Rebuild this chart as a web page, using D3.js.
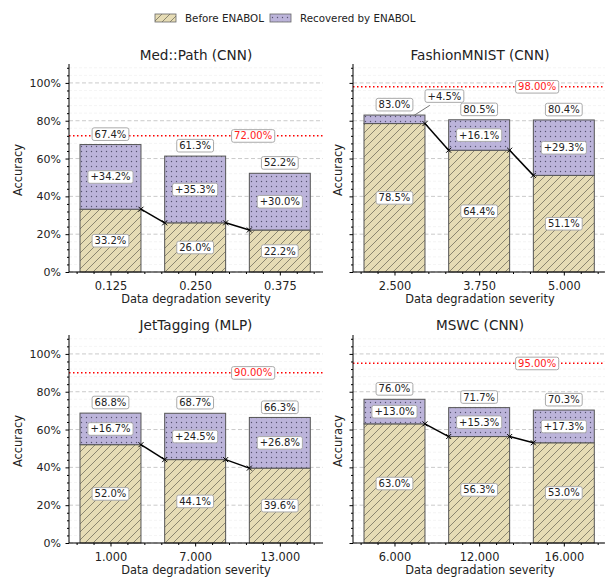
<!DOCTYPE html>
<html><head><meta charset="utf-8">
<script src="https://cdn.jsdelivr.net/npm/d3@7"></script>
<style>body{margin:0;background:#fff} svg{display:block;font-family:"DejaVu Sans",sans-serif}</style>
</head><body><svg id="c" width="605" height="581"></svg>
<script>
// ---------- data ----------
const panelTitles = ["Med::Path (CNN)", "FashionMNIST (CNN)", "JetTagging (MLP)", "MSWC (CNN)"];
const severityLabels = [
  ["0.125", "0.250", "0.375"],
  ["2.500", "3.750", "5.000"],
  ["1.000", "7.000", "13.000"],
  ["6.000", "12.000", "16.000"]
];
const beforeValues = [
  [33.2, 26.0, 22.2],
  [78.5, 64.4, 51.1],
  [52.0, 44.1, 39.6],
  [63.0, 56.3, 53.0]
];
const recoveredValues = [
  [34.2, 35.3, 30.0],
  [4.5, 16.1, 29.3],
  [16.7, 24.5, 26.8],
  [13.0, 15.3, 17.3]
];
const totalValues = [
  [67.4, 61.3, 52.2],
  [83.0, 80.5, 80.4],
  [68.8, 68.7, 66.3],
  [76.0, 71.7, 70.3]
];
const targetValues = [72.00, 98.00, 90.00, 95.00];
const yTicks = [0, 20, 40, 60, 80, 100];
const legendLabels = ["Before ENABOL", "Recovered by ENABOL"];

// ---------- layout ----------
const W = 254, H = 208;
const panelPos = [[69, 64], [353, 64], [69, 335], [353, 335]];
const svg = d3.select("#c");
const defs = svg.append("defs");

const beforeFill = "#e6dcb5", recFill = "#bcb4da";
const pb = defs.append("pattern").attr("id", "hBefore").attr("patternUnits", "userSpaceOnUse")
  .attr("width", 8).attr("height", 8);
pb.append("rect").attr("width", 8).attr("height", 8).attr("fill", beforeFill);
pb.append("path").attr("d", "M-1,1 L1,-1 M0,8 L8,0 M7,9 L9,7")
  .attr("stroke", "#74705e").attr("stroke-width", 0.8);
const pr = defs.append("pattern").attr("id", "hRec").attr("patternUnits", "userSpaceOnUse")
  .attr("width", 5).attr("height", 5);
pr.append("rect").attr("width", 5).attr("height", 5).attr("fill", recFill);
pr.append("circle").attr("cx", 2.5).attr("cy", 2.5).attr("r", 0.7).attr("fill", "#575370");

// legend
const legendX = [155, 270];
legendLabels.forEach((lab, k) => {
  svg.append("rect").attr("x", legendX[k]).attr("y", 14).attr("width", 21).attr("height", 8)
    .attr("fill", k === 0 ? "url(#hBefore)" : "url(#hRec)").attr("stroke", "#666").attr("stroke-width", 0.8);
  svg.append("text").attr("x", legendX[k] + 30).attr("y", 22.3).style("font-size", "10.3px")
    .attr("fill", "#222").text(lab);
});

function boxLabel(parent, cx, cy, txt, color) {
  const gg = parent.append("g");
  const t = gg.append("text").attr("x", cx).attr("y", cy).attr("text-anchor", "middle")
    .attr("dy", "0.36em").style("font-size", "10px").attr("fill", color).text(txt);
  const bb = t.node().getBBox();
  gg.insert("rect", "text").attr("x", bb.x - 2.5).attr("y", bb.y - 0.8)
    .attr("width", bb.width + 5).attr("height", bb.height + 1.6).attr("rx", 2)
    .attr("fill", "#fff").attr("stroke", "#aaa").attr("stroke-width", 1);
  return { x: bb.x - 2.5, y: bb.y - 0.8, w: bb.width + 5, h: bb.height + 1.6 };
}

panelTitles.forEach((title, p) => {
  const [px, py] = panelPos[p];
  const g = svg.append("g").attr("transform", `translate(${px},${py})`);
  const x = d3.scaleLinear().domain([-0.49, 2.51]).range([0, W]);
  const y = d3.scaleLinear().domain([0, 110]).range([H, 0]);
  const bw = 0.72;
  const isLeft = p % 2 === 0;

  // grid
  const minor = d3.range(0, 110, 4).filter(v => v % 20 !== 0);
  g.selectAll(".gmin").data(minor).enter().append("line")
    .attr("x1", 0).attr("x2", W).attr("y1", d => y(d)).attr("y2", d => y(d))
    .attr("stroke", "#ececec").attr("stroke-width", 0.6).attr("stroke-dasharray", "3,2");
  g.selectAll(".gmaj").data(yTicks).enter().append("line")
    .attr("x1", 0).attr("x2", W).attr("y1", d => y(d)).attr("y2", d => y(d))
    .attr("stroke", "#bdbdbd").attr("stroke-width", 0.8).attr("stroke-dasharray", "4,2.5");

  // target line
  g.append("line").attr("x1", 0).attr("x2", W).attr("y1", y(targetValues[p])).attr("y2", y(targetValues[p]))
    .attr("stroke", "#ff0000").attr("stroke-width", 1.5).attr("stroke-dasharray", "1.5,2.5");

  const bef = beforeValues[p], rec = recoveredValues[p], tot = totalValues[p];
  // bars
  bef.forEach((b, i) => {
    g.append("rect").attr("x", x(i - bw / 2)).attr("width", x(bw) - x(0))
      .attr("y", y(b)).attr("height", y(0) - y(b))
      .attr("fill", "url(#hBefore)").attr("stroke", "#555").attr("stroke-width", 1);
    g.append("rect").attr("x", x(i - bw / 2)).attr("width", x(bw) - x(0))
      .attr("y", y(b + rec[i])).attr("height", y(b) - y(b + rec[i]))
      .attr("fill", "url(#hRec)").attr("stroke", "#555").attr("stroke-width", 1);
  });

  // connecting lines
  for (let i = 0; i < bef.length - 1; i++) {
    const x1 = x(i + bw / 2), y1 = y(bef[i]), x2 = x(i + 1 - bw / 2), y2 = y(bef[i + 1]);
    g.append("line").attr("x1", x1).attr("y1", y1).attr("x2", x2).attr("y2", y2)
      .attr("stroke", "#000").attr("stroke-width", 1.5);
    [[x1, y1], [x2, y2]].forEach(([mx, my]) => {
      g.append("path").attr("d", `M${mx - 2.5},${my - 2.5}L${mx + 2.5},${my + 2.5}M${mx - 2.5},${my + 2.5}L${mx + 2.5},${my - 2.5}`)
        .attr("stroke", "#000").attr("stroke-width", 1);
    });
  }

  // spines
  g.append("line").attr("x1", 0).attr("x2", 0).attr("y1", 0).attr("y2", H).attr("stroke", "#000").attr("stroke-width", 1);
  g.append("line").attr("x1", 0).attr("x2", W).attr("y1", H).attr("y2", H).attr("stroke", "#000").attr("stroke-width", 1);

  // y axis
  const ya = g.append("g").call(d3.axisLeft(y).tickValues(yTicks).tickSize(3.5).tickPadding(4.5)
    .tickFormat(d => isLeft ? d + "%" : ""));
  ya.select(".domain").remove();
  ya.selectAll("text").style("font-size", "11px").style("font-family", "DejaVu Sans").attr("fill", "#222");
  const yaMin = g.append("g").call(d3.axisLeft(y).tickValues(d3.range(0, 110, 4).filter(v => v % 20 !== 0)).tickSize(2).tickFormat(""));
  yaMin.select(".domain").remove();

  // x axis
  const xa = g.append("g").attr("transform", `translate(0,${H})`)
    .call(d3.axisBottom(x).tickValues([0, 1, 2]).tickSize(3.5).tickPadding(6)
      .tickFormat(i => severityLabels[p][i]));
  xa.select(".domain").remove();
  xa.selectAll("text").style("font-size", "11.4px").style("font-family", "DejaVu Sans").attr("fill", "#222");
  const xMin = d3.range(-4, 25, 2).map(v => v / 10).filter(v => Math.abs(v - Math.round(v)) > 0.01);
  const xaMin = g.append("g").attr("transform", `translate(0,${H})`)
    .call(d3.axisBottom(x).tickValues(xMin).tickSize(2).tickFormat(""));
  xaMin.select(".domain").remove();

  // labels
  bef.forEach((b, i) => {
    boxLabel(g, x(i), y(b / 2), b.toFixed(1) + "%", "#222");
    if (rec[i] >= 8) {
      boxLabel(g, x(i), y(b + rec[i] / 2), "+" + rec[i].toFixed(1) + "%", "#222");
    } else {
      const tipX = x(i + 0.22), tipY = y(tot[i] - 0.5);
      const bx = boxLabel(g, x(i + 0.59), y(tot[i] + 10.1), "+" + rec[i].toFixed(1) + "%", "#222");
      const cx = bx.x + bx.w / 2, cy = bx.y + bx.h / 2;
      const dx = cx - tipX, dy = cy - tipY;
      const tEdge = Math.min(((bx.w / 2) + 3) / Math.abs(dx), ((bx.h / 2) + 3) / Math.abs(dy));
      g.insert("line", "g").attr("x1", tipX).attr("y1", tipY)
        .attr("x2", cx - dx * tEdge).attr("y2", cy - dy * tEdge)
        .attr("stroke", "#777").attr("stroke-width", 1);
    }
    boxLabel(g, x(i), y(tot[i]) - 10.5, tot[i].toFixed(1) + "%", "#222");
  });
  boxLabel(g, W * 0.725, y(targetValues[p]), targetValues[p].toFixed(2) + "%", "#ff2020");

  // titles
  g.append("text").attr("x", W / 2).attr("y", p < 2 ? -4.3 : -5).attr("text-anchor", "middle")
    .style("font-size", "13.6px").attr("fill", "#222").text(title);
  g.append("text").attr("x", W / 2).attr("y", H + 31).attr("text-anchor", "middle")
    .style("font-size", "11.4px").attr("fill", "#222").text("Data degradation severity");
  g.append("text").attr("transform", `translate(${isLeft ? -47.4 : -11.4},${H / 2 + 2}) rotate(-90)`)
    .attr("text-anchor", "middle").style("font-size", "11.4px").attr("fill", "#222").text("Accuracy");
});
</script></body></html>
